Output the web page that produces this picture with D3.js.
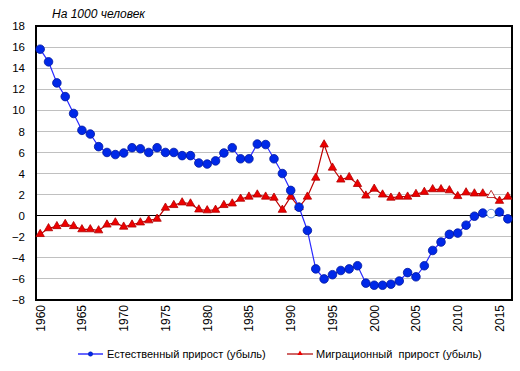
<!DOCTYPE html>
<html><head><meta charset="utf-8">
<script src="https://cdn.jsdelivr.net/npm/d3@7"></script>
<style>body{margin:0;background:#fff}svg{display:block;font-family:"Liberation Sans",Arial,sans-serif}</style>
</head><body><svg id="c" width="520" height="371"></svg>
<script>
const years = d3.range(1960, 2017);
const natural = [15.8,14.6,12.6,11.3,9.7,8.1,7.75,6.55,6.0,5.8,5.95,6.45,6.35,6.0,6.45,6.0,6.0,5.7,5.7,5.0,4.9,5.2,5.95,6.45,5.4,5.4,6.8,6.75,5.4,4.0,2.4,0.8,-1.4,-5.05,-6.0,-5.6,-5.2,-5.05,-4.75,-6.4,-6.6,-6.6,-6.5,-6.2,-5.4,-5.8,-4.75,-3.3,-2.5,-1.77,-1.65,-0.9,-0.05,0.25,0.2,0.35,-0.3];
const migration = [-1.75,-1.2,-1.0,-0.8,-1.0,-1.3,-1.3,-1.4,-0.85,-0.65,-1.05,-0.85,-0.65,-0.45,-0.3,0.75,1.0,1.25,1.15,0.58,0.5,0.55,1.0,1.15,1.6,1.8,2.0,1.8,1.7,0.55,1.8,0.8,1.8,3.6,6.75,4.55,3.42,3.65,3.0,1.9,2.55,2.0,1.7,1.8,1.8,2.05,2.25,2.5,2.5,2.4,1.85,2.2,2.1,2.1,1.95,1.4,1.8];
const yTicks = d3.range(-8, 19, 2);
const xTickYears = [1960,1965,1970,1975,1980,1985,1990,1995,2000,2005,2010,2015];
const hollowYears = [2014];
const seriesNames = ["Естественный прирост (убыль)", "Миграционный  прирост (убыль)"];
const title = "На 1000 человек";

const svg = d3.select("#c");
const L = 36, R = 512, T = 26, B = 300;
const x = d3.scalePoint().domain(years).range([L, R]).padding(0.5);
const y = d3.scaleLinear().domain([-8, 18]).range([B, T]);

// gridlines
svg.append("g").selectAll("line").data(yTicks.filter(v => v !== 0 && v !== 18 && v !== -8)).join("line")
  .attr("x1", L).attr("x2", R).attr("y1", d => y(d)).attr("y2", d => y(d))
  .attr("stroke", "#c0c0c0").attr("stroke-width", 1).attr("shape-rendering", "crispEdges");

// border
svg.append("rect").attr("x", L).attr("y", T).attr("width", R - L).attr("height", B - T)
  .attr("fill", "none").attr("stroke", "#000").attr("stroke-width", 1.3).attr("shape-rendering", "crispEdges");
// zero line
svg.append("line").attr("x1", L).attr("x2", R).attr("y1", y(0)).attr("y2", y(0))
  .attr("stroke", "#000").attr("stroke-width", 1.3).attr("shape-rendering", "crispEdges");

// y axis labels
const yAxis = d3.axisLeft(y).tickValues(yTicks).tickSize(0).tickPadding(11);
const ya = svg.append("g").attr("transform", `translate(${L},0)`).call(yAxis);
ya.select(".domain").remove();
ya.selectAll("text").attr("font-size", 11.5).attr("fill", "#000").attr("font-family", "Liberation Sans, Arial, sans-serif");

// x axis labels (rotated)
const xAxis = d3.axisBottom(x).tickValues(xTickYears).tickSize(0).tickPadding(0);
const xa = svg.append("g").attr("transform", `translate(0,${B})`).call(xAxis);
xa.select(".domain").remove();
xa.selectAll("text").attr("font-size", 12).attr("fill", "#000").attr("font-family", "Liberation Sans, Arial, sans-serif")
  .attr("text-anchor", "end").attr("dy", null).attr("y", 0)
  .attr("transform", "translate(4,5) rotate(-90)");

// title
svg.append("text").attr("x", 52).attr("y", 18).attr("font-size", 12).attr("font-style", "italic")
  .attr("fill", "#000").text(title);

const line = d3.line().x((d, i) => x(years[i])).y(d => y(d));

// natural series
svg.append("path").datum(natural).attr("d", line).attr("fill", "none").attr("stroke", "#2a2aff").attr("stroke-width", 1.2);
// migration series
svg.append("path").datum(migration).attr("d", line).attr("fill", "none").attr("stroke", "#c00000").attr("stroke-width", 1.2);

const tri = d3.symbol().type(d3.symbolTriangle).size(30);

svg.append("g").selectAll("path").data(migration).join("path")
  .attr("d", tri)
  .attr("transform", (d, i) => `translate(${x(years[i])},${y(d)})`)
  .attr("fill", (d, i) => hollowYears.includes(years[i]) ? "#fff" : "#ee0000")
  .attr("stroke", "#b00000").attr("stroke-width", 0.8);

svg.append("g").selectAll("circle").data(natural).join("circle")
  .attr("cx", (d, i) => x(years[i])).attr("cy", d => y(d)).attr("r", 4.3)
  .attr("fill", (d, i) => hollowYears.includes(years[i]) ? "#fff" : "#0028e8")
  .attr("stroke", (d, i) => hollowYears.includes(years[i]) ? "#3a7ad0" : "#0018a0").attr("stroke-width", 0.8);

// legend
const lg = svg.append("g");
lg.append("line").attr("x1", 78).attr("x2", 103).attr("y1", 354).attr("y2", 354).attr("stroke", "#0000ff").attr("stroke-width", 1.2);
lg.append("circle").attr("cx", 90.5).attr("cy", 354).attr("r", 2.2).attr("fill", "#0028e8").attr("stroke", "#0018a0").attr("stroke-width", 0.5);
lg.append("text").attr("x", 107).attr("y", 358).attr("font-size", 11).attr("fill", "#000").text(seriesNames[0]);
lg.append("line").attr("x1", 287).attr("x2", 313).attr("y1", 354).attr("y2", 354).attr("stroke", "#b00000").attr("stroke-width", 1.2);
lg.append("path").attr("d", d3.symbol().type(d3.symbolTriangle).size(12)).attr("transform", "translate(300,353.5)").attr("fill", "#ee0000");
lg.append("text").attr("x", 316).attr("y", 358).attr("font-size", 11).attr("fill", "#000").style("white-space", "pre").text(seriesNames[1]);
</script></body></html>
